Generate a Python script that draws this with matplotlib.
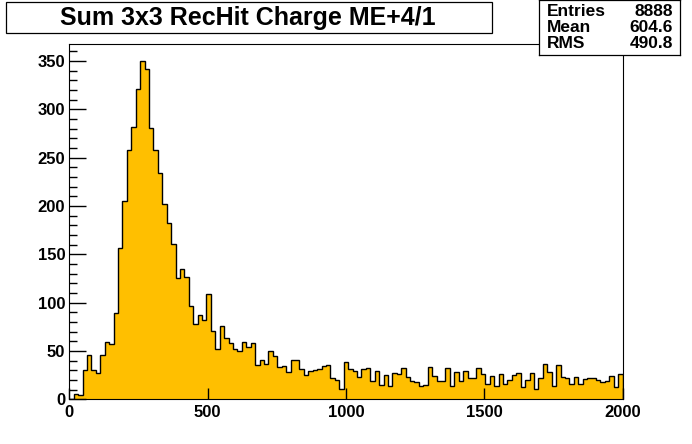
import numpy as np
import matplotlib
matplotlib.use("Agg")
import matplotlib.pyplot as plt
from matplotlib.patches import Rectangle

# histogram contents, 125 bins of width 16 over 0..2000
bin_lo = 0
bin_hi = 2000
n_bins = 125
counts = [0, 5, 4, 30, 46, 30, 27, 46, 59, 57,
          89, 157, 205, 258, 282, 321, 350, 342, 281, 258,
          234, 202, 182, 161, 125, 135, 126, 97, 78, 87,
          82, 109, 71, 52, 76, 63, 58, 52, 50, 59,
          54, 58, 35, 41, 37, 50, 45, 33, 34, 28,
          41, 41, 31, 25, 29, 30, 31, 34, 35, 22,
          20, 11, 39, 31, 29, 23, 31, 32, 19, 29,
          15, 25, 14, 27, 26, 32, 23, 19, 18, 14,
          15, 33, 24, 19, 19, 32, 14, 28, 19, 29,
          22, 22, 32, 26, 16, 24, 14, 26, 16, 20,
          25, 27, 13, 20, 27, 11, 22, 36, 28, 14,
          35, 23, 22, 16, 23, 16, 21, 22, 22, 20,
          18, 19, 24, 13, 26]

title = "Sum 3x3 RecHit Charge ME+4/1"
stat_names = ["Entries", "Mean", "RMS"]
stat_values = ["8888", "604.6", "490.8"]
x_ticks = [0, 500, 1000, 1500, 2000]
y_ticks = [0, 50, 100, 150, 200, 250, 300, 350]

FONT = "Liberation Sans"
W, H = 692, 444

fig = plt.figure(figsize=(W / 100, H / 100), dpi=100)
ax = fig.add_axes([69.3 / W, 1 - 399.3 / H, (622.5 - 69.3) / W, (399.3 - 44) / H])

edges = np.linspace(bin_lo, bin_hi, n_bins + 1)
ax.stairs(counts, edges, fill=True, facecolor="#ffbf00", edgecolor="none")
ax.stairs(counts, edges, fill=False, color="black", linewidth=1.0, baseline=0)

ax.set_xlim(bin_lo, bin_hi)
ax.set_ylim(0, 1.05 * max(counts))

ax.set_xticks(x_ticks)
ax.set_xticklabels([str(t) for t in x_ticks])
ax.set_yticks(y_ticks)
ax.set_yticklabels([str(t) for t in y_ticks])
ax.set_yticks(np.arange(0, 361, 10), minor=True)

ax.tick_params(axis="both", which="both", direction="in", width=1.0, colors="black")
ax.tick_params(axis="y", which="major", length=12, pad=3)
ax.tick_params(axis="y", which="minor", length=6)
ax.tick_params(axis="x", which="major", length=8, pad=4)
for lab in ax.get_xticklabels() + ax.get_yticklabels():
    lab.set_fontfamily(FONT)
    lab.set_fontweight("bold")
    lab.set_fontsize(12)

for sp in ax.spines.values():
    sp.set_linewidth(0.8)
ax.set_zorder(1)

# title box
fig.patches.append(Rectangle((6 / W, 1 - 33 / H), (492 - 6) / W, 31 / H,
                             transform=fig.transFigure, facecolor="white",
                             edgecolor="black", linewidth=0.9))
fig.text(248 / W, 1 - 18 / H, title, ha="center", va="center",
         fontfamily=FONT, fontweight="bold", fontsize=18)

# stats box
stat_ax = fig.add_axes([539 / W, 1 - 55 / H, (680 - 539) / W, 55 / H])
stat_ax.set_xlim(0, 1)
stat_ax.set_ylim(0, 1)
stat_ax.set_xticks([])
stat_ax.set_yticks([])
for sp in stat_ax.spines.values():
    sp.set_linewidth(0.9)
stat_ax.set_zorder(3)
rows_y = [1 - 11 / 55, 1 - 27 / 55, 1 - 43 / 55]
for name, val, yy in zip(stat_names, stat_values, rows_y):
    stat_ax.text(8 / 141, yy, name, ha="left", va="center",
                 fontfamily=FONT, fontweight="bold", fontsize=12.5)
    stat_ax.text(1 - 7 / 141, yy, val, ha="right", va="center",
                 fontfamily=FONT, fontweight="bold", fontsize=12.5)

fig.savefig("out.png", dpi=100)
